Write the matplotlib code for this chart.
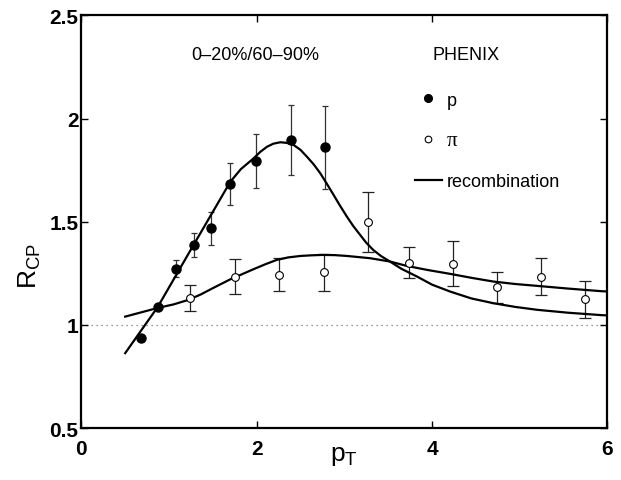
import numpy as np
import matplotlib
matplotlib.use('Agg')
import matplotlib.pyplot as plt

plt.rcParams['font.family'] = ['Liberation Sans', 'DejaVu Sans']

# PHENIX data
p_pt = [0.68, 0.88, 1.08, 1.28, 1.48, 1.70, 1.99, 2.39, 2.78]
p_rcp = [0.936, 1.088, 1.273, 1.387, 1.468, 1.683, 1.795, 1.895, 1.86]
p_err = [0.0, 0.0, 0.04, 0.06, 0.08, 0.10, 0.13, 0.17, 0.20]

pi_pt = [1.24, 1.75, 2.25, 2.77, 3.27, 3.74, 4.24, 4.74, 5.24, 5.75]
pi_rcp = [1.13, 1.233, 1.242, 1.254, 1.50, 1.302, 1.296, 1.182, 1.233, 1.124]
pi_err = [0.065, 0.085, 0.08, 0.09, 0.145, 0.075, 0.11, 0.075, 0.09, 0.09]

# recombination curves
rp_pt = [0.50, 0.87, 1.27, 1.70, 1.82, 1.965, 2.04, 2.117, 2.19, 2.269,
         2.345, 2.421, 2.50, 2.573, 2.65, 2.725, 2.80, 2.877, 2.95, 3.03,
         3.10, 3.18, 3.25, 3.33, 3.42, 3.52, 3.65, 3.83, 4.00, 4.21, 4.45,
         4.70, 4.95, 5.20, 5.55, 5.94, 6.0]
rp_rcp = [0.863, 1.086, 1.38, 1.694, 1.755, 1.807, 1.838, 1.863, 1.878,
          1.885, 1.882, 1.872, 1.848, 1.815, 1.778, 1.735, 1.684, 1.630,
          1.578, 1.524, 1.48, 1.436, 1.398, 1.363, 1.333, 1.307, 1.272,
          1.234, 1.195, 1.161, 1.128, 1.105, 1.087, 1.073, 1.059, 1.047,
          1.046]
rpi_pt = [0.50, 0.87, 1.05, 1.22, 1.36, 1.50, 1.70, 1.965, 2.10, 2.23,
          2.36, 2.50, 2.62, 2.745, 2.89, 3.03, 3.295, 3.52, 3.71, 3.95,
          4.21, 4.45, 4.70, 4.95, 5.20, 5.55, 5.94, 6.0]
rpi_rcp = [1.040, 1.082, 1.099, 1.121, 1.147, 1.178, 1.221, 1.270, 1.294,
           1.315, 1.327, 1.334, 1.337, 1.339, 1.338, 1.334, 1.323, 1.307,
           1.286, 1.266, 1.247, 1.228, 1.210, 1.198, 1.189, 1.176, 1.163,
           1.162]

fig = plt.figure(figsize=(6.21, 4.81), dpi=100)
ax = fig.add_axes([0.131, 0.108, 0.847, 0.858])

ax.axhline(1.0, color='#777777', lw=0.9, ls=(0, (1, 3)), zorder=1)

ax.errorbar(p_pt, p_rcp, yerr=p_err, fmt='none', ecolor='#333333',
            elinewidth=0.9, capsize=2.5, capthick=0.9, zorder=2)
ax.errorbar(pi_pt, pi_rcp, yerr=pi_err, fmt='none', ecolor='#222222',
            elinewidth=0.9, capsize=4, capthick=0.9, zorder=2)

ax.plot(rp_pt, rp_rcp, '-', color='black', lw=1.6, zorder=3)
hl, = ax.plot(rpi_pt, rpi_rcp, '-', color='black', lw=1.6, zorder=3)

hp, = ax.plot(p_pt, p_rcp, 'o', color='black', ms=6.5, zorder=4)
hpi, = ax.plot(pi_pt, pi_rcp, 'o', mfc='white', mec='black', mew=0.8,
               ms=5.6, zorder=4)

ax.set_xlim(0, 6)
ax.set_ylim(0.5, 2.5)
ax.set_xticks([0, 2, 4, 6])
ax.set_yticks([0.5, 1, 1.5, 2, 2.5])
ax.set_xticklabels(['0', '2', '4', '6'])
ax.set_yticklabels(['0.5', '1', '1.5', '2', '2.5'])
ax.tick_params(direction='in', length=5, width=1, top=True, right=True,
               labelsize=15)
ax.tick_params(axis='x', pad=8)
ax.tick_params(axis='y', pad=2)
for lab in ax.get_xticklabels() + ax.get_yticklabels():
    lab.set_fontweight('bold')
for s in ax.spines.values():
    s.set_linewidth(1.6)

ax.set_xlabel('p$_\\mathregular{T}$', fontsize=19)
ax.set_ylabel('R$_\\mathregular{CP}$', fontsize=19)
ax.xaxis.set_label_coords(0.5, -0.036)
ax.yaxis.set_label_coords(-0.072, 0.395)

ax.text(1.98, 2.31, '0–20%/60–90%', fontsize=13, ha='center', va='center')
ax.text(4.01, 2.31, 'PHENIX', fontsize=13, ha='left', va='center')

leg = ax.legend([hp, hpi, hl], ['p', 'π', 'recombination'], frameon=False,
                loc='upper left', bbox_to_anchor=(3.81, 2.13),
                bbox_transform=ax.transData, fontsize=13, handlelength=1.45,
                handletextpad=0.3, labelspacing=1.25, borderpad=0,
                borderaxespad=0, markerscale=0.85)
leg.get_texts()[1].set_family(['Liberation Serif', 'DejaVu Serif'])
leg.get_texts()[1].set_fontsize(15)

fig.savefig('out.png', dpi=100)
